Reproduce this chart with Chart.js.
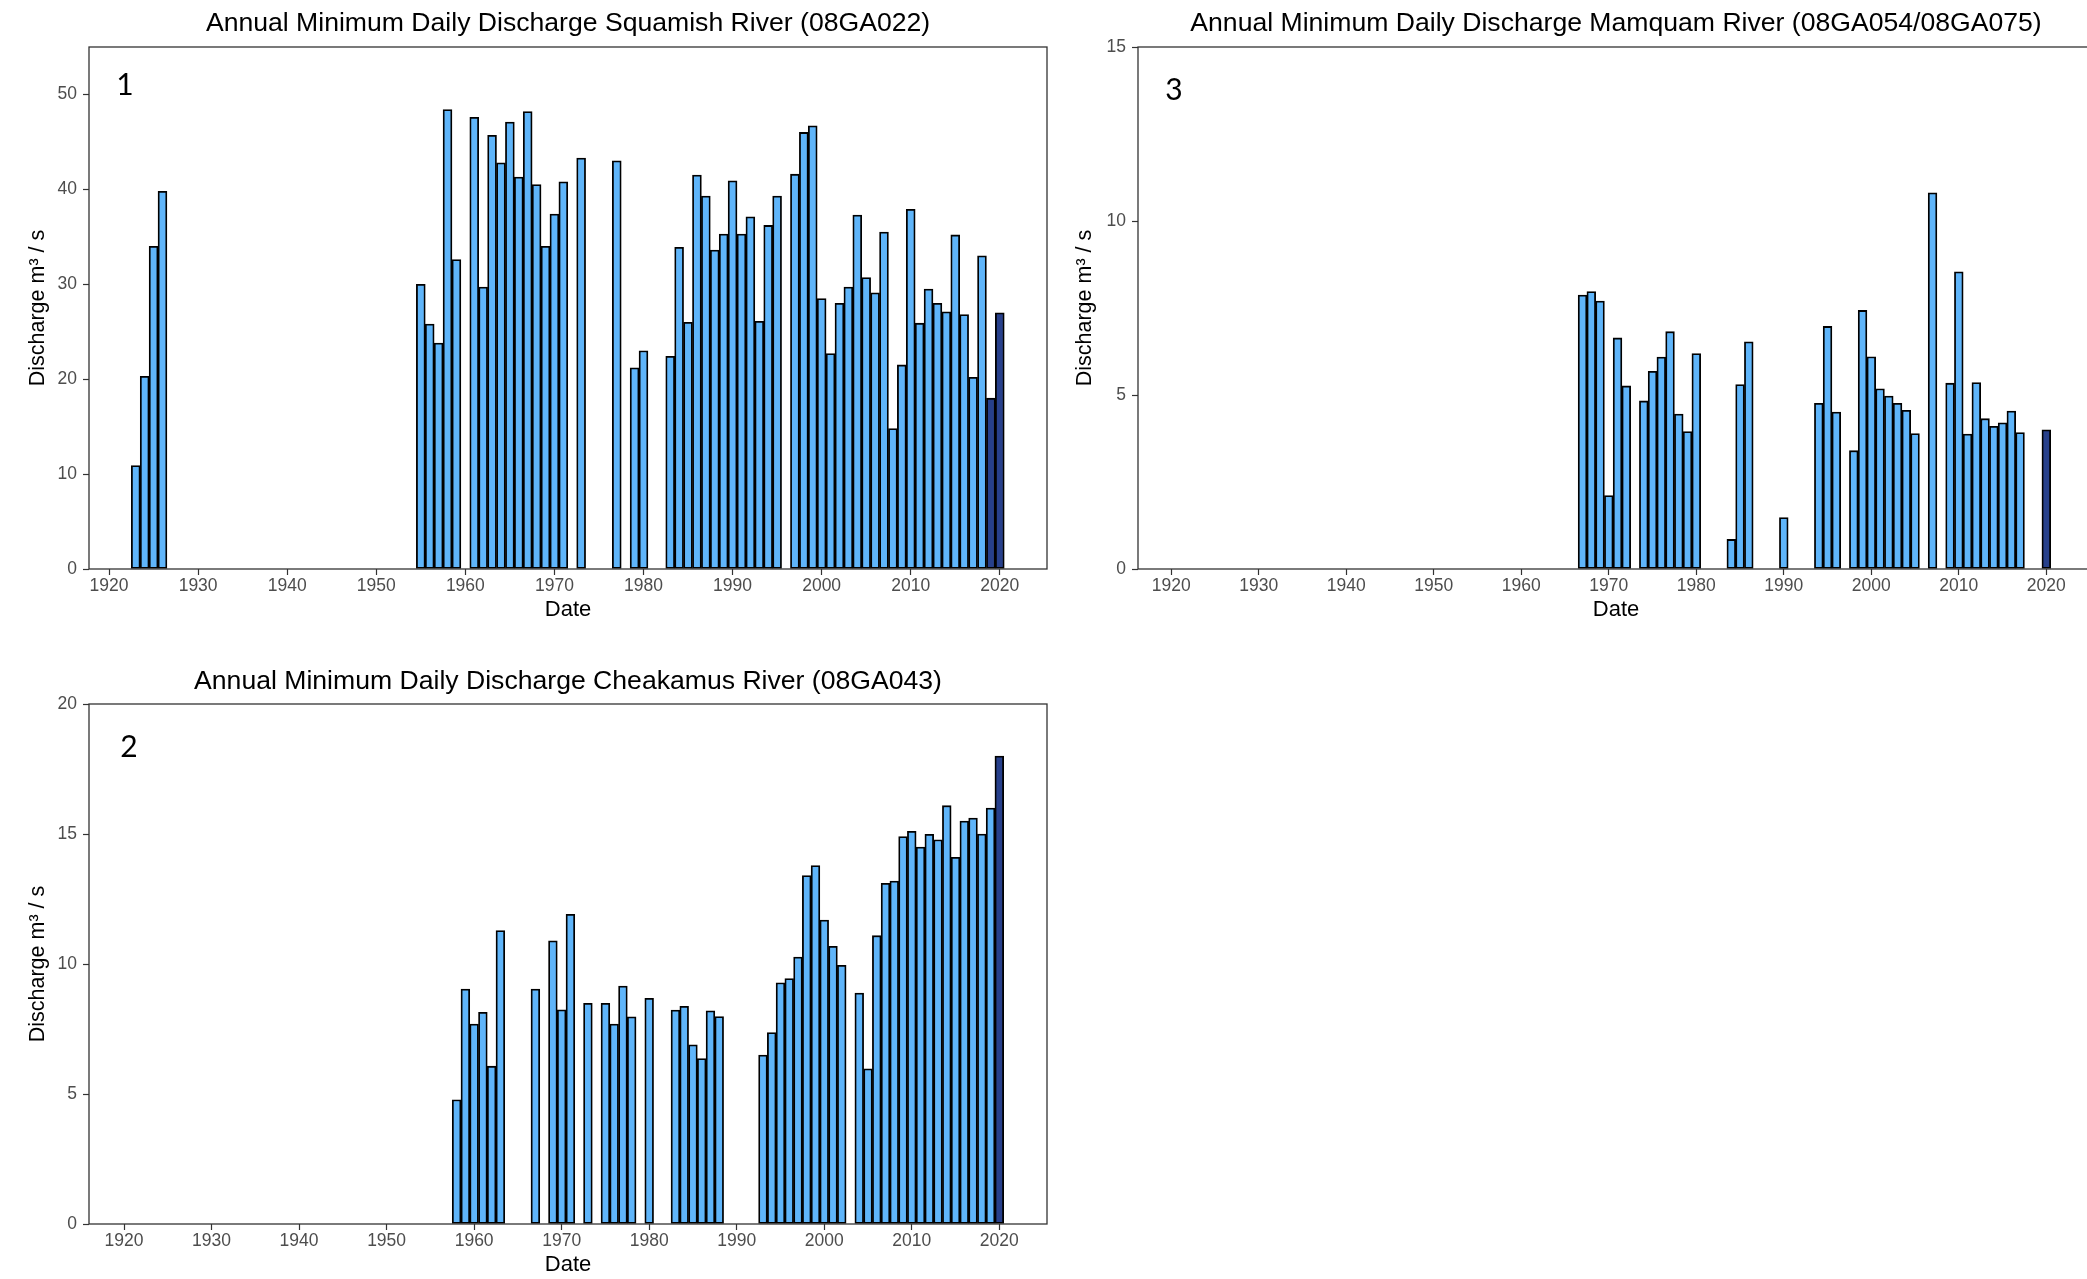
<!DOCTYPE html>
<html>
<head>
<meta charset="utf-8">
<script src="https://cdn.jsdelivr.net/npm/chart.js@4.4.1/dist/chart.umd.min.js"></script>
<style>
html, body { margin: 0; padding: 0; background: #fff; overflow: hidden; width: 2087px; height: 1279px; }
canvas { position: absolute; }
</style>
</head>
<body>
<canvas id="c1" width="1060" height="640" style="left:0px;top:0px"></canvas>
<canvas id="c2" width="1060" height="639" style="left:0px;top:640px"></canvas>
<canvas id="c3" width="1060" height="640" style="left:1050px;top:0px"></canvas>
<script>
// ---------- data ----------
const xTickLabels = [1920, 1930, 1940, 1950, 1960, 1970, 1980, 1990, 2000, 2010, 2020];

const squamishTitle = "Annual Minimum Daily Discharge Squamish River (08GA022)";
const squamishYears = [1923, 1924, 1925, 1926,
  1955, 1956, 1957, 1958, 1959,
  1961, 1962, 1963, 1964, 1965, 1966, 1967, 1968, 1969, 1970, 1971,
  1973, 1977, 1979, 1980,
  1983, 1984, 1985, 1986, 1987, 1988, 1989, 1990, 1991, 1992, 1993, 1994, 1995,
  1997, 1998, 1999, 2000, 2001, 2002, 2003, 2004, 2005, 2006, 2007, 2008,
  2009, 2010, 2011, 2012, 2013, 2014, 2015, 2016, 2017, 2018, 2019, 2020];
const squamishValues = [10.9, 20.3, 34.0, 39.8,
  30.0, 25.8, 23.8, 48.4, 32.6,
  47.6, 29.7, 45.7, 42.8, 47.1, 41.3, 48.2, 40.5, 34.0, 37.4, 40.8,
  43.3, 43.0, 21.2, 23.0,
  22.4, 33.9, 26.0, 41.5, 39.3, 33.6, 35.3, 40.9, 35.3, 37.1, 26.1, 36.2, 39.3,
  41.6, 46.0, 46.7, 28.5, 22.7, 28.0, 29.7, 37.3, 30.7, 29.1, 35.5, 14.8,
  21.5, 37.9, 25.9, 29.5, 28.0, 27.1, 35.2, 26.8, 20.2, 33.0, 18.0, 27.0];
const squamishHighlight = [2019, 2020];
const squamishYTicks = [0, 10, 20, 30, 40, 50];

const cheakamusTitle = "Annual Minimum Daily Discharge Cheakamus River (08GA043)";
const cheakamusYears = [1958, 1959, 1960, 1961, 1962, 1963, 1967, 1969, 1970, 1971,
  1973, 1975, 1976, 1977, 1978, 1980, 1983, 1984, 1985, 1986, 1987, 1988,
  1993, 1994, 1995, 1996, 1997, 1998, 1999, 2000, 2001, 2002,
  2004, 2005, 2006, 2007, 2008, 2009, 2010, 2011, 2012, 2013, 2014, 2015,
  2016, 2017, 2018, 2019, 2020];
const cheakamusValues = [4.78, 9.04, 7.69, 8.14, 6.07, 11.29, 9.04, 10.89, 8.24, 11.91,
  8.49, 8.49, 7.69, 9.15, 7.97, 8.68, 8.23, 8.37, 6.89, 6.36, 8.20, 7.98,
  6.50, 7.36, 9.28, 9.44, 10.27, 13.40, 13.79, 11.69, 10.68, 9.95,
  8.88, 5.97, 11.09, 13.10, 13.19, 14.90, 15.10, 14.50, 14.99, 14.78, 16.09, 14.10,
  15.50, 15.61, 15.00, 16.00, 18.00];
const cheakamusHighlight = [2020];
const cheakamusYTicks = [0, 5, 10, 15, 20];

const mamquamTitle = "Annual Minimum Daily Discharge Mamquam River (08GA054/08GA075)";
const mamquamYears = [1967, 1968, 1969, 1970, 1971, 1972, 1974, 1975, 1976, 1977, 1978, 1979, 1980,
  1984, 1985, 1986, 1990, 1994, 1995, 1996,
  1998, 1999, 2000, 2001, 2002, 2003, 2004, 2005, 2007,
  2009, 2010, 2011, 2012, 2013, 2014, 2015, 2016, 2017, 2020];
const mamquamValues = [7.87, 7.97, 7.70, 2.11, 6.64, 5.26, 4.83, 5.68, 6.09, 6.82, 4.45, 3.95, 6.19,
  0.85, 5.30, 6.53, 1.48, 4.76, 6.97, 4.51,
  3.40, 7.43, 6.10, 5.18, 4.97, 4.76, 4.56, 3.89, 10.81,
  5.34, 8.54, 3.88, 5.36, 4.32, 4.10, 4.20, 4.54, 3.92, 4.00];
const mamquamHighlight = [2020];
const mamquamYTicks = [0, 5, 10, 15];

// ---------- styling ----------
const BAR_COLOR = '#5FB5FA';
const HIGHLIGHT_COLOR = '#27408B';
const TICK_COLOR = '#4D4D4D';
const LINE_COLOR = '#333333';
const SANS = '"Liberation Sans", Arial, sans-serif';

const panelDecor = {
  id: 'panelDecor',
  afterDatasetsDraw(chart, args, o) {
    const { ctx, chartArea: a } = chart;
    ctx.save();
    ctx.strokeStyle = LINE_COLOR;
    ctx.lineWidth = 1.3;
    ctx.strokeRect(a.left, a.top, a.right - a.left, a.bottom - a.top);
    ctx.restore();
  },
  afterDraw(chart, args, o) {
    const { ctx, chartArea: a } = chart;
    ctx.save();
    ctx.fillStyle = '#000';
    ctx.textAlign = 'center';
    ctx.textBaseline = 'middle';
    ctx.font = '26.6px ' + SANS;
    ctx.fillText(o.title, (a.left + a.right) / 2, o.titleY);
    ctx.font = '30px Lato, "Open Sans", sans-serif';
    ctx.fillText(o.label, a.left + o.labelDX, a.top + o.labelDY);
    ctx.restore();
  }
};

function makePanel(id, cfg) {
  const points = cfg.years.map((yr, i) => ({ x: yr, y: cfg.values[i] }));
  const colors = cfg.years.map(yr => cfg.highlight.includes(yr) ? HIGHLIGHT_COLOR : BAR_COLOR);
  return new Chart(document.getElementById(id), {
    type: 'bar',
    data: {
      datasets: [{
        data: points,
        backgroundColor: colors,
        borderColor: '#000000',
        borderWidth: 1.8,
        borderSkipped: false,
        categoryPercentage: 1.0,
        barPercentage: 1.0
      }]
    },
    options: {
      responsive: false,
      animation: false,
      devicePixelRatio: 1,
      layout: { padding: { top: cfg.padTop, right: cfg.padRight, left: 0, bottom: 0 } },
      plugins: {
        legend: { display: false },
        tooltip: { enabled: false },
        title: { display: false },
        panelDecor: { title: cfg.title, titleY: cfg.titleY, label: cfg.label, labelDX: cfg.labelDX, labelDY: cfg.labelDY }
      },
      scales: {
        x: {
          type: 'linear',
          min: cfg.xMin,
          max: cfg.xMax,
          offset: false,
          afterBuildTicks: s => { s.ticks = xTickLabels.map(v => ({ value: v })); },
          afterFit: s => { s.height = cfg.xHeight; },
          grid: { display: true, offset: false, drawOnChartArea: false, drawTicks: true, tickLength: 6, tickColor: LINE_COLOR, tickWidth: 1.2 },
          border: { display: false },
          ticks: { color: TICK_COLOR, font: { family: SANS, size: 17.5 }, padding: 0.5, maxRotation: 0, autoSkip: false, callback: v => String(v) },
          title: { display: true, text: 'Date', color: '#000', font: { family: SANS, size: 22 }, padding: { top: 0, bottom: cfg.xTitlePad } }
        },
        y: {
          type: 'linear',
          min: 0,
          max: cfg.yMax,
          afterBuildTicks: s => { s.ticks = cfg.yTicks.map(v => ({ value: v })); },
          afterFit: s => { s.width = cfg.yWidth; },
          grid: { display: true, drawOnChartArea: false, drawTicks: true, tickLength: 6, tickColor: LINE_COLOR, tickWidth: 1.2 },
          border: { display: false },
          ticks: { color: TICK_COLOR, font: { family: SANS, size: 17.5 }, padding: 6, callback: v => String(v) },
          title: { display: true, text: 'Discharge m³ / s', color: '#000', font: { family: SANS, size: 21.5 }, padding: { top: cfg.yTitlePad, bottom: 0 } }
        }
      }
    },
    plugins: [panelDecor]
  });
}

makePanel('c1', {
  title: squamishTitle, label: '1', years: squamishYears, values: squamishValues, highlight: squamishHighlight,
  yTicks: squamishYTicks, yMax: 55, xMin: 1917.75, xMax: 2025.3,
  padTop: 47, padRight: 13, yWidth: 89, xHeight: 71, yTitlePad: 25.1, xTitlePad: 17.2,
  titleY: 24, labelDX: 36, labelDY: 38
});
makePanel('c2', {
  title: cheakamusTitle, label: '2', years: cheakamusYears, values: cheakamusValues, highlight: cheakamusHighlight,
  yTicks: cheakamusYTicks, yMax: 20, xMin: 1916.0, xMax: 2025.45,
  padTop: 64, padRight: 13, yWidth: 89, xHeight: 55, yTitlePad: 25.1, xTitlePad: 0.6,
  titleY: 41.5, labelDX: 40, labelDY: 43
});
makePanel('c3', {
  title: mamquamTitle, label: '3', years: mamquamYears, values: mamquamValues, highlight: mamquamHighlight,
  yTicks: mamquamYTicks, yMax: 15, xMin: 1916.2, xMax: 2025.45,
  padTop: 47, padRight: 16, yWidth: 88, xHeight: 71, yTitlePad: 22.1, xTitlePad: 17.2,
  titleY: 24, labelDX: 36, labelDY: 43
});
</script>
</body>
</html>
